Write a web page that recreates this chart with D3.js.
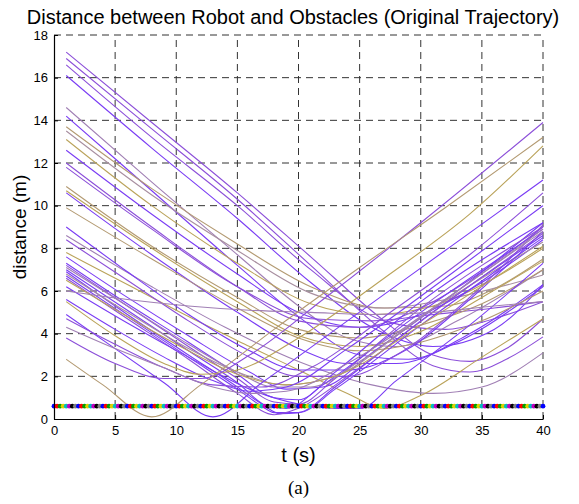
<!DOCTYPE html>
<html>
<head>
<meta charset="utf-8">
<title>Distance between Robot and Obstacles</title>
<script src="https://d3js.org/d3.v7.min.js"></script>
<style>
  body { margin: 0; background: #fff; }
  text { font-family: "Liberation Sans", Arial, sans-serif; }
  .grid-line { stroke: #333; stroke-width: 1; stroke-dasharray: 7 5; }
  .axis path, .axis line { stroke: #000; }
  .axis text { font-size: 13px; fill: #000; }
</style>
</head>
<body>
<script>
// ---- data ----
const xTicks = [0, 5, 10, 15, 20, 25, 30, 35, 40];
const yTicks = [0, 2, 4, 6, 8, 10, 12, 14, 16, 18];
const safeDistance = 0.6;
const markerColors = ["#0000ff", "#ff0000", "#00a000", "#e0d000", "#00c0c0", "#c000c0", "#000000", "#808080"];

// colour keys for the tracks
const palette = {
  P: "#7a3cf4", P2: "#8c4fd9", M: "#a07fb4", M2: "#a88fa0", T: "#b39a72", T2: "#baa35a"
};

// obstacles approaching from far away, passing late
const lateTracks = [
  ["P2", [[1,17.2],[8,13.9],[15,10.6],[21,7.6],[27,4.6],[31,3.0],[34,2.7],[37,3.3],[40,4.7]]],
  ["P2", [[1,16.9],[8,13.6],[15,10.3],[21,7.2],[27,4.1],[31,2.5],[34,2.2],[37,2.8],[40,3.85]]],
  ["P2", [[1,16.6],[8,13.2],[15,10.0],[21,7.0],[27,4.6],[32,4.2],[36,4.7],[40,5.5]]],
  ["P",  [[1,16.1],[8,12.7],[15,9.4],[21,6.4],[26,4.3],[31,3.4],[36,4.2],[40,6.3]]],
  ["M",  [[1,14.6],[8,11.1],[15,7.7],[20,5.3],[24,3.8],[28,3.4],[33,4.6],[40,7.0]]],
  ["P",  [[1,14.2],[8,10.7],[15,7.2],[20,4.8],[25,3.0],[29,2.8],[34,4.0],[40,6.3]]],
  ["T",  [[1,13.7],[8,10.8],[15,8.2],[21,6.2],[27,5.2],[32,5.3],[36,6.1],[40,7.5]]],
  ["M2", [[1,13.5],[8,10.5],[15,7.9],[21,5.9],[27,5.2],[32,5.6],[40,6.75]]],
  ["T2", [[1,13.1],[8,10.0],[15,7.3],[21,5.4],[26,4.9],[31,5.3],[36,6.6],[40,8.0]]],
  ["P",  [[1,12.6],[8,9.6],[15,6.8],[20,5.0],[25,4.3],[30,4.9],[35,6.4],[40,8.4]]],
  ["P2", [[1,12.0],[8,9.0],[15,6.2],[20,4.6],[25,4.3],[30,5.2],[35,6.9],[40,9.0]]],
  ["P2", [[1,11.8],[8,8.9],[15,6.2],[21,4.7],[26,4.6],[31,4.9],[36,5.2],[40,5.5]]],
  ["T",  [[1,10.9],[8,8.1],[15,5.7],[20,4.2],[25,3.8],[30,4.4],[35,5.4],[40,7.0]]],
  ["T2", [[1,10.7],[8,8.0],[15,5.5],[20,3.9],[25,3.4],[30,4.1],[35,5.7],[40,7.4]]],
  ["P",  [[1,10.6],[8,7.7],[15,5.0],[20,3.3],[24,2.6],[28,2.6],[33,3.6],[40,6.2]]],
  ["T",  [[1,9.9],[8,7.5],[15,5.2],[20,3.8],[25,3.2],[30,3.6],[35,4.6],[40,6.0]]],
  ["M",  [[1,8.6],[8,6.2],[14,4.3],[20,2.7],[26,1.6],[31,1.2],[35,1.5],[40,3.1]]],
  ["T2", [[1,7.8],[6,6.3],[11,4.8],[16,3.4],[20,2.3],[24,1.2],[27,0.5],[30,1.1],[35,2.9],[40,4.7]]]
];

// obstacles passed around the middle of the run
const midTracks = [
  ["P",  [[1,9.0],[6,6.9],[11,4.9],[16,3.2],[20,2.3],[24,2.3],[29,3.3],[34,5.6],[40,8.8]]],
  ["P2", [[1,8.4],[6,6.5],[11,4.6],[16,2.9],[20,2.0],[24,2.0],[28,3.0],[34,5.7],[40,9.1]]],
  ["P",  [[1,7.6],[6,5.7],[11,3.9],[16,2.2],[19,1.4],[22,1.5],[26,3.1],[33,6.0],[40,9.2]]],
  ["P",  [[1,7.3],[6,5.4],[11,3.6],[15,2.1],[18,1.0],[20,0.9],[23,2.2],[30,5.5],[40,9.2]]],
  ["P2", [[1,7.2],[6,5.3],[11,3.4],[15,1.9],[18,0.8],[20,0.7],[23,1.9],[30,5.2],[40,9.0]]],
  ["M",  [[1,7.1],[6,5.3],[11,3.5],[15,2.2],[18,1.5],[21,1.5],[25,2.7],[32,5.6],[40,8.8]]],
  ["P",  [[1,7.0],[6,5.1],[11,3.2],[15,1.7],[17.5,0.6],[19,0.5],[22,1.6],[30,5.0],[40,8.9]]],
  ["P",  [[1,6.9],[6,4.9],[11,3.0],[15,1.5],[17,0.7],[18.5,0.25],[20,0.3],[23,1.5],[30,4.6],[40,8.6]]],
  ["M2", [[1,6.8],[6,5.0],[11,3.3],[15,2.2],[19,1.6],[23,2.0],[30,4.8],[40,8.3]]],
  ["P",  [[1,6.7],[6,4.8],[11,2.9],[15,1.4],[17,0.6],[18,0.3],[20,0.3],[23,1.4],[30,4.4],[40,8.5]]],
  ["P2", [[1,6.6],[6,4.7],[11,2.8],[15,1.2],[18,0.2],[20,0.5],[24,2.0],[31,5.0],[40,8.7]]],
  ["T2", [[1,6.5],[6,4.8],[11,3.2],[15,2.1],[19,1.6],[23,2.0],[30,4.4],[40,8.1]]],
  ["P",  [[1,6.2],[6,4.5],[11,2.9],[16,1.4],[20,0.7],[23,0.5],[25,0.5],[28,1.8],[34,4.4],[40,7.3]]],
  ["M",  [[1,6.0],[6,5.6],[11,5.3],[16,5.1],[21,5.0],[26,4.9],[31,5.0],[36,5.3],[40,5.5]]]
];

// obstacles close to the start, passed early
const earlyTracks = [
  ["P",  [[1,5.6],[5,4.2],[9,2.9],[13,1.8],[16,1.3],[19,1.5],[24,3.3],[32,6.6],[40,10.0]]],
  ["T2", [[1,5.5],[5,3.9],[9,2.6],[12,2.1],[15,2.3],[20,3.8],[27,6.6],[34,9.6],[40,12.8]]],
  ["P",  [[1,4.9],[5,3.3],[9,1.7],[13,0.1],[17,1.7],[24,4.6],[32,7.9],[40,11.2]]],
  ["P2", [[1,4.7],[5,3.5],[9,2.4],[13,1.6],[17,1.5],[21,2.4],[28,5.2],[34,7.7],[40,10.6]]],
  ["M",  [[1,4.3],[5,3.3],[9,2.4],[13,1.5],[16,1.2],[19,1.3],[24,2.6],[32,5.6],[40,8.9]]],
  ["P2", [[1,3.8],[5,2.6],[9,1.9],[12,1.9],[16,3.0],[22,5.6],[30,9.2],[40,13.9]]],
  ["T",  [[1,2.8],[4,1.6],[8,0.1],[12,1.6],[18,4.2],[25,7.1],[32,9.9],[40,13.2]]]
];

// ---- layout ----
const width = 579, height = 504;
const margin = { top: 35, right: 36, bottom: 85, left: 54 };
const plotW = width - margin.left - margin.right;
const plotH = height - margin.top - margin.bottom;

const svg = d3.select("body").append("svg")
    .attr("width", width)
    .attr("height", height);

const xScale = d3.scaleLinear().domain([0, 40]).range([0, plotW]);
const yScale = d3.scaleLinear().domain([0, 18]).range([plotH, 0]);

const plot = svg.append("g")
    .attr("transform", "translate(" + margin.left + "," + margin.top + ")");

// grid
plot.selectAll(".vgrid").data(xTicks.slice(1))
  .enter().append("line")
    .classed("grid-line", true)
    .attr("x1", d => xScale(d)).attr("x2", d => xScale(d))
    .attr("y1", plotH).attr("y2", 0);

plot.selectAll(".hgrid").data(yTicks.slice(1))
  .enter().append("line")
    .classed("grid-line", true)
    .attr("x1", 0).attr("x2", plotW)
    .attr("y1", d => yScale(d)).attr("y2", d => yScale(d));

// tracks
const line = d3.line()
    .x(d => xScale(d[0]))
    .y(d => yScale(d[1]))
    .curve(d3.curveMonotoneX);

const allTracks = lateTracks.concat(midTracks, earlyTracks);

plot.append("g").selectAll("path")
  .data(allTracks)
  .enter().append("path")
    .attr("d", d => line(d[1]))
    .attr("fill", "none")
    .attr("stroke", d => palette[d[0]])
    .attr("stroke-width", 1.1);

// safety distance drawn with coloured markers
const markerTimes = d3.range(0, 40.001, 0.25);
plot.append("g").selectAll("circle")
  .data(markerTimes)
  .enter().append("circle")
    .attr("cx", d => xScale(d))
    .attr("cy", yScale(safeDistance))
    .attr("r", 2.4)
    .attr("fill", (d, i) => markerColors[i % markerColors.length]);

// axes
plot.append("g")
    .classed("axis", true)
    .attr("transform", "translate(0," + plotH + ")")
    .call(d3.axisBottom(xScale).tickValues(xTicks).tickSizeInner(-4).tickSizeOuter(0).tickPadding(7))
    .call(g => g.select(".domain").attr("stroke-width", 1.2));

plot.append("g")
    .classed("axis", true)
    .call(d3.axisLeft(yScale).tickValues(yTicks).tickSizeInner(-4).tickSizeOuter(0).tickPadding(6))
    .call(g => g.select(".domain").attr("stroke-width", 1.2));

// labels
svg.append("text")
    .attr("x", 293).attr("y", 24)
    .attr("text-anchor", "middle")
    .style("font-size", "20px")
    .text("Distance between Robot and Obstacles (Original Trajectory)");

svg.append("text")
    .attr("transform", "translate(26," + (margin.top + plotH / 2) + ") rotate(-90)")
    .attr("text-anchor", "middle")
    .style("font-size", "19px")
    .text("distance (m)");

svg.append("text")
    .attr("x", margin.left + plotW / 2).attr("y", 462)
    .attr("text-anchor", "middle")
    .style("font-size", "20px")
    .text("t (s)");

svg.append("text")
    .attr("x", margin.left + plotW / 2).attr("y", 494)
    .attr("text-anchor", "middle")
    .style("font-family", "'Liberation Serif', 'Times New Roman', serif")
    .style("font-size", "19px")
    .text("(a)");
</script>
</body>
</html>
